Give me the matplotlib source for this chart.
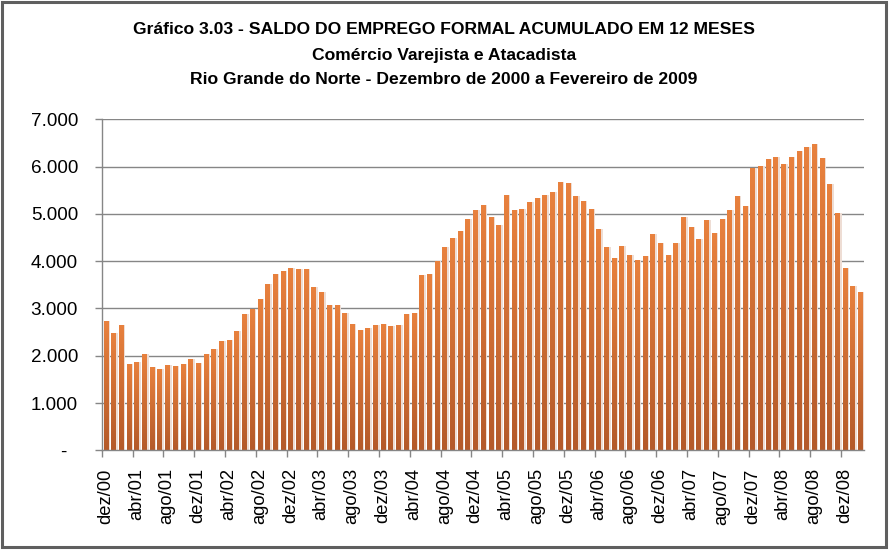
import numpy as np
import matplotlib
matplotlib.use("Agg")
import matplotlib.pyplot as plt
from matplotlib.patches import Rectangle
from matplotlib.colors import LinearSegmentedColormap

# ---------------- data ----------------
months_pt = ["jan", "fev", "mar", "abr", "mai", "jun", "jul", "ago", "set", "out", "nov", "dez"]
categories = ["dez/00"] + [f"{m}/{y:02d}" for y in range(1, 9) for m in months_pt] + ["jan/09", "fev/09"]

values = [
    2730, 2490, 2660, 1830, 1870, 2040, 1770, 1725, 1810, 1790, 1830, 1940,
    1850, 2040, 2150, 2320, 2340, 2530, 2890, 2980, 3210, 3510, 3720, 3800,
    3846, 3825, 3825, 3443, 3358, 3082, 3082, 2912, 2679, 2552, 2594, 2658,
    2679, 2637, 2658, 2892, 2912, 3698, 3719, 3995, 4292, 4483, 4631, 4886,
    5077, 5183, 4928, 4758, 5395, 5077, 5098, 5246, 5331, 5395, 5459, 5671,
    5650, 5374, 5268, 5098, 4674, 4292, 4058, 4313, 4122, 4016, 4101, 4568,
    4377, 4122, 4377, 4928, 4716, 4462, 4865, 4589, 4886, 5077, 5374, 5162,
    5968, 6010, 6158, 6201, 6052, 6201, 6328, 6413, 6477, 6180, 5628, 5013,
    3846, 3465, 3358,
]

yticks = [0, 1000, 2000, 3000, 4000, 5000, 6000, 7000]
ytick_labels = ["-  ", "1.000", "2.000", "3.000", "4.000", "5.000", "6.000", "7.000"]

title_lines = [
    "Gráfico 3.03 - SALDO DO EMPREGO FORMAL ACUMULADO EM 12 MESES",
    "Comércio Varejista e Atacadista",
    "Rio Grande do Norte - Dezembro de 2000 a Fevereiro de 2009",
]

# ---------------- figure ----------------
W, H = 889, 553
fig = plt.figure(figsize=(W / 100, H / 100), dpi=100)
fig.patch.set_facecolor("white")

# outer frame
fig.patches.append(Rectangle((1.5 / W, 1 - 547 / H), 884.5 / W, 545.5 / H,
                             transform=fig.transFigure, fill=False,
                             edgecolor="#5f5f5f", linewidth=2.2))

left, right = 101.7, 864.0
top, bottom = 119.3, 450.3
ax = fig.add_axes([left / W, 1 - bottom / H, (right - left) / W, (bottom - top) / H])

n = len(values)
x = np.arange(n)
ax.set_xlim(-0.5, n - 0.5)
ax.set_ylim(0, 7000)

# grid
for yv in yticks[1:]:
    ax.axhline(yv, color="#868686", linewidth=1.0, zorder=1)

bw = 0.52
cmap = LinearSegmentedColormap.from_list("og", ["#B45A2A", "#E8813E"])
grad = np.linspace(0, 1, 64).reshape(-1, 1)

# shadows
ax.bar(x + 0.28, values, width=bw + 0.1, color="#EEDDD4", zorder=2, linewidth=0)
bars = ax.bar(x, values, width=bw, color="#D9733A", zorder=3, linewidth=0)
for b in bars:
    x0 = b.get_x()
    h = b.get_height()
    im = ax.imshow(grad, extent=(x0, x0 + b.get_width(), 0, h), origin="lower",
                   aspect="auto", cmap=cmap, zorder=4, interpolation="bilinear")
    im.set_clip_path(b)
ax.set_xlim(-0.5, n - 0.5)
ax.set_ylim(0, 7000)

# spines
for s in ["top", "right"]:
    ax.spines[s].set_visible(False)
for s in ["left", "bottom"]:
    ax.spines[s].set_color("#868686")
    ax.spines[s].set_linewidth(1.0)
    ax.spines[s].set_zorder(5)

font = "Liberation Sans"
ax.set_yticks(yticks)
ax.set_yticklabels(ytick_labels, fontsize=13.6, family=font)
ax.tick_params(axis="y", length=5, width=1, color="#868686", pad=12)

# x ticks: marks on category boundaries, labels every 4th category
ax.set_xticks(np.arange(-0.5, n, 4))
ax.set_xticklabels([])
ax.tick_params(axis="x", which="major", length=5, width=1, color="#868686")
ax.set_xticks(x[::4], minor=True)
ax.set_xticklabels([categories[i] for i in x[::4]], minor=True, rotation=90,
                   fontsize=13.2, family=font, ha="center", va="top")
ax.tick_params(axis="x", which="minor", length=0, pad=13)

# title
for t, yy in zip(title_lines, [30, 55, 80]):
    fig.text(444 / W, 1 - yy / H, t, ha="center", va="center", fontsize=12.6,
             fontweight="bold", family=font)

fig.savefig("out.png", dpi=100)
